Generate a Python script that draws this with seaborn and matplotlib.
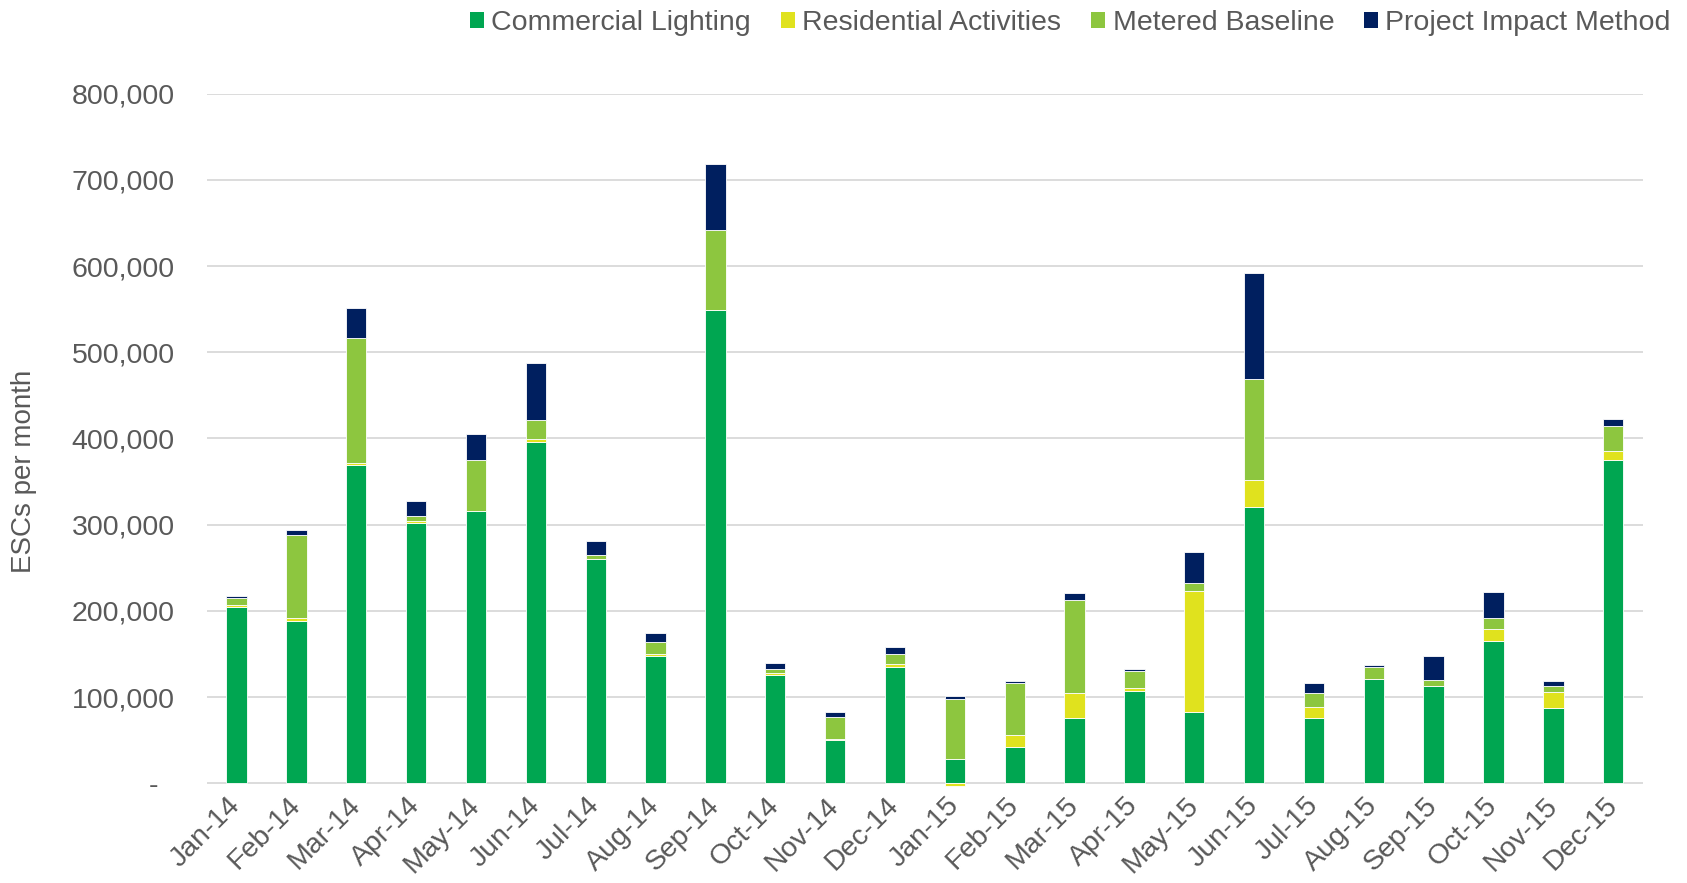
import matplotlib
matplotlib.use("Agg")
import matplotlib.pyplot as plt
from matplotlib.patches import Patch
from matplotlib.ticker import FuncFormatter, MultipleLocator
import numpy as np
import pandas as pd
import seaborn as sns

months = ["Jan-14", "Feb-14", "Mar-14", "Apr-14", "May-14", "Jun-14", "Jul-14", "Aug-14",
          "Sep-14", "Oct-14", "Nov-14", "Dec-14", "Jan-15", "Feb-15", "Mar-15", "Apr-15",
          "May-15", "Jun-15", "Jul-15", "Aug-15", "Sep-15", "Oct-15", "Nov-15", "Dec-15"]

commercial_lighting = [204000, 188000, 369000, 301500, 316000, 396000, 260000, 148000,
                       549000, 126000, 50000, 135000, 28000, 42000, 75500, 107000,
                       83000, 320000, 75500, 121000, 112500, 165500, 87000, 375000]
residential_activities = [3000, 3300, 3000, 2500, 0, 3000, 0, 2400,
                          0, 2400, 1400, 3800, -3000, 13500, 29000, 3900,
                          140000, 31300, 13500, 0, 0, 14000, 19300, 10100]
metered_baseline = [8000, 97000, 145000, 6000, 59000, 22000, 4500, 13500,
                    92500, 4000, 26000, 11600, 69400, 61200, 108400, 19200,
                    9600, 118000, 15400, 13500, 7700, 12000, 6300, 29000]
project_impact = [2300, 6000, 34000, 18000, 30000, 67000, 16000, 10000,
                  76500, 7700, 5800, 8200, 3900, 2400, 8200, 2500,
                  36000, 123000, 12500, 2400, 28000, 30000, 5800, 8200]

series_names = ["Commercial Lighting", "Residential Activities", "Metered Baseline", "Project Impact Method"]
series_values = [commercial_lighting, residential_activities, metered_baseline, project_impact]
series_colors = ["#00A651", "#E0E21E", "#8DC63F", "#001F5F"]

sns.set_style("white")
plt.rcParams["font.family"] = ["Liberation Sans", "DejaVu Sans"]

grey = "#595959"
fs = 20.5

fig, ax = plt.subplots(figsize=(16.87, 8.83), dpi=100)
fig.subplots_adjust(left=0.1225, right=0.974, top=0.894, bottom=0.108)

pos_bottom = np.zeros(len(months))
neg_bottom = np.zeros(len(months))
for name, vals, col in zip(series_names, series_values, series_colors):
    v = np.array(vals, dtype=float)
    bottom = np.where(v >= 0, pos_bottom, neg_bottom)
    sns.barplot(x=months, y=v, order=months, color=col, saturation=1, width=0.34,
                errorbar=None, bottom=bottom, edgecolor="white", linewidth=0.6, ax=ax)
    pos_bottom = pos_bottom + np.where(v >= 0, v, 0)
    neg_bottom = neg_bottom + np.where(v < 0, v, 0)

ax.set_ylim(-5000, 800000)
ax.set_xlim(-0.5, len(months) - 0.5)
ax.yaxis.set_major_locator(MultipleLocator(100000))
ax.yaxis.set_major_formatter(FuncFormatter(lambda v, p: "-  " if abs(v) < 1 else f"{int(v):,}"))
ax.set_axisbelow(True)
ax.yaxis.grid(True, color="#D9D9D9", linewidth=1.3)
ax.xaxis.grid(False)
for s in ax.spines.values():
    s.set_visible(False)

ax.tick_params(axis="y", length=0, pad=23, labelsize=fs, labelcolor=grey)
ax.tick_params(axis="x", length=0, pad=10, labelsize=fs, labelcolor=grey)
ax.set_xticks(range(len(months)))
ax.set_xticklabels(months, rotation=45, ha="right", va="center", rotation_mode="anchor")
ax.set_xlabel("")
ax.set_ylabel("")

fig.text(24 / 1687, 0.4657, "ESCs per month", rotation=90, ha="center", va="center",
         fontsize=20, color=grey)

handles = [Patch(facecolor=c, edgecolor="none") for c in series_colors]
fig.legend(handles, series_names, loc="upper right", bbox_to_anchor=(1.0005, 1.008), ncol=4,
           frameon=False, fontsize=fs, handlelength=0.5, handleheight=0.5,
           handletextpad=0.25, columnspacing=1.05, labelcolor=grey, borderaxespad=0.2)

fig.savefig("out.png", dpi=100, facecolor="white")
